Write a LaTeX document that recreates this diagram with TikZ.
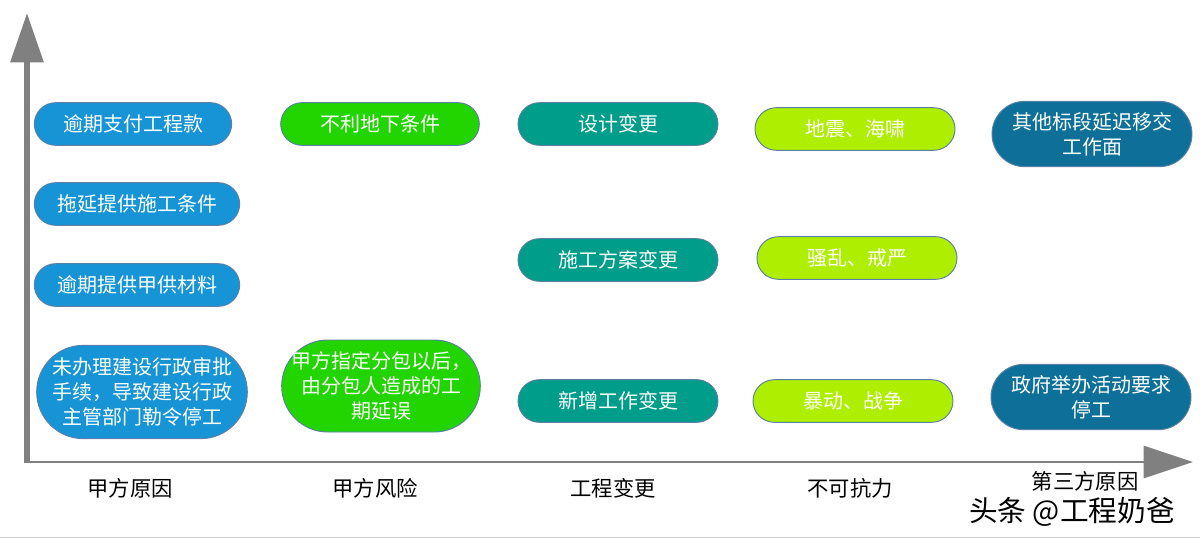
\documentclass[tikz,border=0pt]{standalone}
\usepackage{fontspec}
\newfontfamily\cjk{Noto Sans CJK SC}
\usetikzlibrary{arrows.meta}

\definecolor{ownerblue}{HTML}{1794D6}
\definecolor{riskgreen}{HTML}{22D400}
\definecolor{changeteal}{HTML}{009E8A}
\definecolor{forcelime}{HTML}{AEEE00}
\definecolor{thirdblue}{HTML}{0E7099}
\definecolor{pilledge}{HTML}{5B7FA6}
\definecolor{axisgray}{HTML}{808080}

\begin{document}
\begin{tikzpicture}[
  x=0.75pt, y=-0.75pt,
  font=\cjk\fontsize{15}{18.5}\selectfont,
  every node/.style={align=center},
  pill/.style  ={rectangle, rounded corners=16pt, draw=pilledge, line width=0.7pt,
                 text=white, inner sep=0pt, minimum width=150pt, minimum height=32pt},
  tall/.style  ={minimum height=#1, rounded corners=#1/2},
  owner/.style ={pill, fill=ownerblue},
  risk/.style  ={pill, fill=riskgreen},
  change/.style={pill, fill=changeteal},
  force/.style ={pill, fill=forcelime},
  third/.style ={pill, fill=thirdblue},
  axis/.style  ={draw=axisgray, -{Triangle[length=37pt, width=24pt]}},
  cat/.style   ={text=black, font=\cjk\fontsize{16}{19}\selectfont},
]
\useasboundingbox (0,0) rectangle (1200,539);

% -------- axes ------------------------------------------------------------
\coordinate (origin) at (27,462);
\coordinate (ytip)   at (27,13);
\coordinate (xtip)   at (1193,462);
\draw[axis, line width=4.5pt] (origin) -- (ytip);
\draw[axis, line width=2.2pt] ([xshift=-2pt]origin) -- (xtip);

% -------- 甲方原因 --------------------------------------------------------
\node[owner, minimum width=148pt] (o1) at (133,124) {逾期支付工程款};
\node[owner, minimum width=154pt] (o2) at (137,204) {拖延提供施工条件};
\node[owner, minimum width=154pt] (o3) at (137,285) {逾期提供甲供材料};
\node[owner, minimum width=158pt, tall=70pt] (o4) at (142,392)
  {未办理建设行政审批\\手续，导致建设行政\\主管部门勒令停工};

% -------- 甲方风险 --------------------------------------------------------
\node[risk, minimum width=149pt] (r1) at (380,124) {不利地下条件};
\node[risk, minimum width=149pt, tall=69pt] (r2) at (381,386)
  {甲方指定分包以后，\\由分包人造成的工\\期延误};

% -------- 工程变更 --------------------------------------------------------
\node[change] (c1) at (618,124) {设计变更};
\node[change] (c2) at (618,260) {施工方案变更};
\node[change] (c3) at (618,401) {新增工作变更};

% -------- 不可抗力 --------------------------------------------------------
\node[force] (f1) at (855,129) {地震、海啸};
\node[force] (f2) at (857,258) {骚乱、戒严};
\node[force] (f3) at (853,401) {暴动、战争};

% -------- 第三方原因 ------------------------------------------------------
\node[third, tall=49pt] (t1) at (1092,134) {其他标段延迟移交\\工作面};
\node[third, tall=49pt] (t2) at (1091,397) {政府举办活动要求\\停工};

% -------- category labels -------------------------------------------------
\foreach \x/\y/\txt/\nm in {130/488/甲方原因/k1, 375/488/甲方风险/k2,
                            613/488/工程变更/k3, 850/488/不可抗力/k4,
                            1085/481/第三方原因/k5}
  \node[cat] (\nm) at (\x,\y) {\txt};

% -------- watermark & frame -----------------------------------------------
\node[text=black, font=\cjk\fontsize{21.5}{25}\selectfont] (mark) at (1072,512) {头条 @工程奶爸};
\coordinate (fl) at (0,537.5);
\coordinate (fr) at (1200,537.5);
\draw[gray!40, line width=0.8pt] (fl) -- (fr);

\end{tikzpicture}
\end{document}
